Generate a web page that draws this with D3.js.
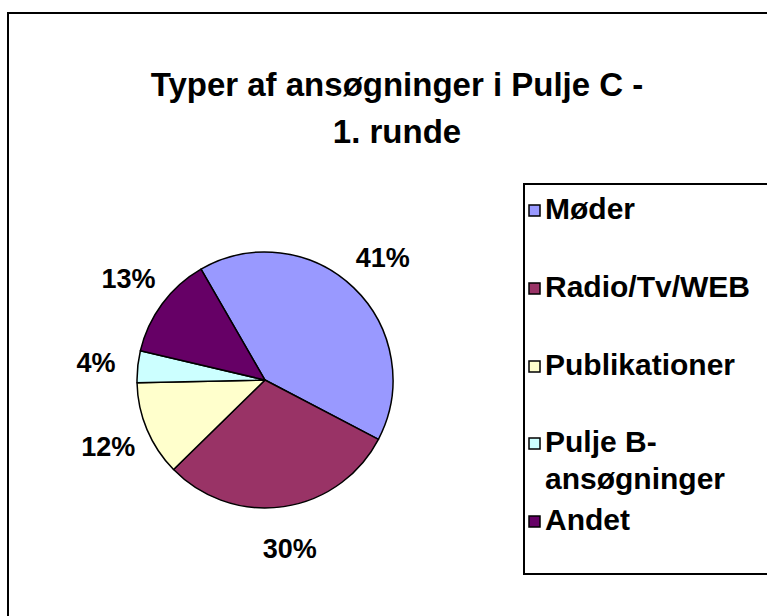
<!DOCTYPE html>
<html lang="da">
<head>
    <meta charset="UTF-8">
    <title>Typer af ansøgninger i Pulje C - 1. runde</title>
    <script src="https://d3js.org/d3.v7.min.js"></script>
    <style>
        html, body { margin: 0; padding: 0; background: #fff; }
        svg text { font-family: "Liberation Sans", Arial, sans-serif; font-weight: bold; fill: #000; }
    </style>
</head>
<body>
    <svg id="chart" width="767" height="616"></svg>

    <script>
        // data
        const categories = ["Møder", "Radio/Tv/WEB", "Publikationer", "Pulje B-ansøgninger", "Andet"];
        const legendLines = [["Møder"], ["Radio/Tv/WEB"], ["Publikationer"], ["Pulje B-", "ansøgninger"], ["Andet"]];
        const values = [41, 30, 12, 4, 13];
        const colors = ["#9999FF", "#993366", "#FFFFCC", "#CCFFFF", "#660066"];
        const titleLines = ["Typer af ansøgninger i Pulje C -", "1. runde"];

        const svg = d3.select("#chart");

        // chart frame
        svg.append("rect")
            .attr("x", 8).attr("y", 13)
            .attr("width", 800).attr("height", 700)
            .attr("fill", "#fff")
            .attr("stroke", "#000")
            .attr("stroke-width", 2);

        // title
        svg.append("text")
            .attr("text-anchor", "middle")
            .attr("font-size", 33)
            .selectAll("tspan")
            .data(titleLines)
            .join("tspan")
            .attr("x", 397)
            .attr("y", (d, i) => 96 + i * 47)
            .text(d => d);

        // pie
        const cx = 265, cy = 380, r = 128;
        const start = -30 * Math.PI / 180;
        const pie = d3.pie().sort(null).startAngle(start).endAngle(start + 2 * Math.PI);
        const arcs = pie(values);
        const arc = d3.arc().innerRadius(0).outerRadius(r);
        const labelArc = d3.arc().innerRadius(r + 42).outerRadius(r + 42);

        const g = svg.append("g").attr("transform", `translate(${cx},${cy})`);

        g.selectAll("path")
            .data(arcs)
            .join("path")
            .attr("d", arc)
            .attr("fill", (d, i) => colors[i])
            .attr("stroke", "#000")
            .attr("stroke-width", 1.5)
            .attr("stroke-linejoin", "round");

        g.selectAll("text.pct")
            .data(arcs)
            .join("text")
            .attr("class", "pct")
            .attr("transform", d => `translate(${labelArc.centroid(d)})`)
            .attr("text-anchor", "middle")
            .attr("dy", "0.36em")
            .attr("font-size", 27)
            .text(d => Math.round(d.data / d3.sum(values) * 100) + "%");

        // legend
        svg.append("rect")
            .attr("x", 524).attr("y", 184)
            .attr("width", 300).attr("height", 390)
            .attr("fill", "#fff")
            .attr("stroke", "#000")
            .attr("stroke-width", 2);

        const rowY = [219, 297, 375, 452, 530];
        const item = svg.append("g").selectAll("g")
            .data(categories)
            .join("g")
            .attr("transform", (d, i) => `translate(529,${rowY[i]})`);

        item.append("rect")
            .attr("x", 0).attr("y", -14)
            .attr("width", 11).attr("height", 11)
            .attr("fill", (d, i) => colors[i])
            .attr("stroke", "#000")
            .attr("stroke-width", 1.5);

        item.append("text")
            .attr("font-size", 30)
            .selectAll("tspan")
            .data((d, i) => legendLines[i])
            .join("tspan")
            .attr("x", 16)
            .attr("y", (d, j) => j * 37)
            .text(d => d);
    </script>
</body>
</html>
